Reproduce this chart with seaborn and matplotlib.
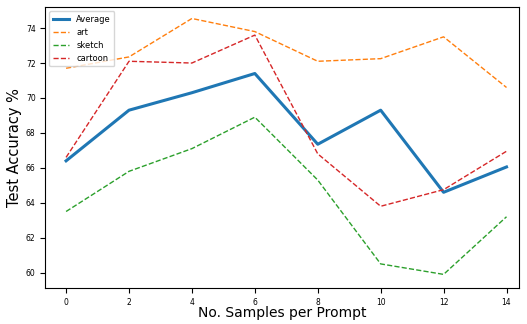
import pandas as pd
import matplotlib
matplotlib.use("Agg")
import matplotlib.pyplot as plt
import seaborn as sns

# Dados
amostras = [0, 2, 4, 6, 8, 10, 12, 14]
average = [66.4, 69.3, 70.3, 71.4, 67.35, 69.3, 64.6, 66.05]
art = [71.7, 72.35, 74.55, 73.8, 72.1, 72.25, 73.5, 70.6]
sketch = [63.5, 65.8, 67.1, 68.9, 65.3, 60.5, 59.9, 63.2]
cartoon = [66.6, 72.1, 72.0, 73.6, 66.8, 63.8, 64.75, 66.95]

fig, ax = plt.subplots(figsize=(5.27, 3.24), dpi=100)

sns.lineplot(x=amostras, y=average, ax=ax, color="tab:blue", linewidth=2.2, label="Average")
sns.lineplot(x=amostras, y=art, ax=ax, color="tab:orange", linewidth=1, linestyle="--", label="art")
sns.lineplot(x=amostras, y=sketch, ax=ax, color="tab:green", linewidth=1, linestyle="--", label="sketch")
sns.lineplot(x=amostras, y=cartoon, ax=ax, color="tab:red", linewidth=1, linestyle="--", label="cartoon")

ax.set_xticks(amostras)
ax.set_yticks([60, 62, 64, 66, 68, 70, 72, 74])
ax.tick_params(labelsize=5.5)
ax.set_ylim(59.1, 75.2)
ax.set_xlim(-0.66, 14.4)
ax.set_xlabel("No. Samples per Prompt", fontsize=10, labelpad=-1)
ax.set_ylabel("Test Accuracy %", fontsize=10.5, labelpad=3)
ax.legend(loc="upper left", fontsize=6)

plt.subplots_adjust(left=0.086, right=0.985, top=0.978, bottom=0.11)
plt.savefig("out.png")
